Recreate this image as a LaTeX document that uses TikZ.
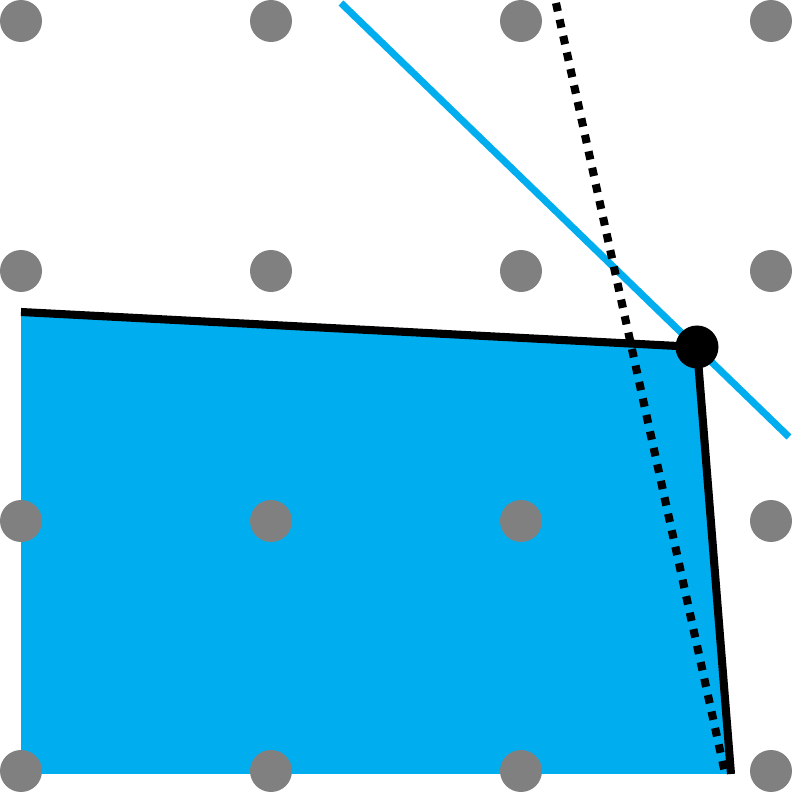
\documentclass[tikz,border=0pt]{standalone}
\definecolor{skyblue}{HTML}{00AEEF}
\tikzset{
  griddot/.style={circle,fill=gray,inner sep=0pt,minimum size=4.2mm},
  corner/.style={circle,fill=black,inner sep=0pt,minimum size=4.3mm},
  edge/.style={line width=2.3pt},
}
\begin{document}
\begin{tikzpicture}
      \useasboundingbox (0,0) rectangle (7.93,7.93);
      \coordinate (a) at (0.21,4.81);
      \coordinate (b) at (6.97,4.46);
      \coordinate (c) at (7.31,0.19);
      \coordinate (d) at (0.21,0.19);
      \coordinate (u1) at (3.41,7.90);
      \coordinate (u2) at (7.89,3.56);
      \coordinate (v1) at (5.56,7.90);
      \coordinate (v2) at (7.25,0.20);
      \fill[skyblue] (a) -- (b) -- (c) -- (d) -- cycle;
      \foreach \i in {0,...,3}
        \foreach \j in {0,...,3}
          \node[griddot] (g\i\j) at (0.21+2.5*\i,0.22+2.5*\j) {};
      \begin{scope}[line width=2pt]
        \draw[skyblue] (u1) -- (u2);
        \draw[edge] (a) -- (b) -- (c);
        \draw[edge,dash pattern=on 2.4pt off 2.4pt] (v1) -- (v2);
      \end{scope}
      \node[corner] (p) at (b) {};
    \end{tikzpicture}
\end{document}
